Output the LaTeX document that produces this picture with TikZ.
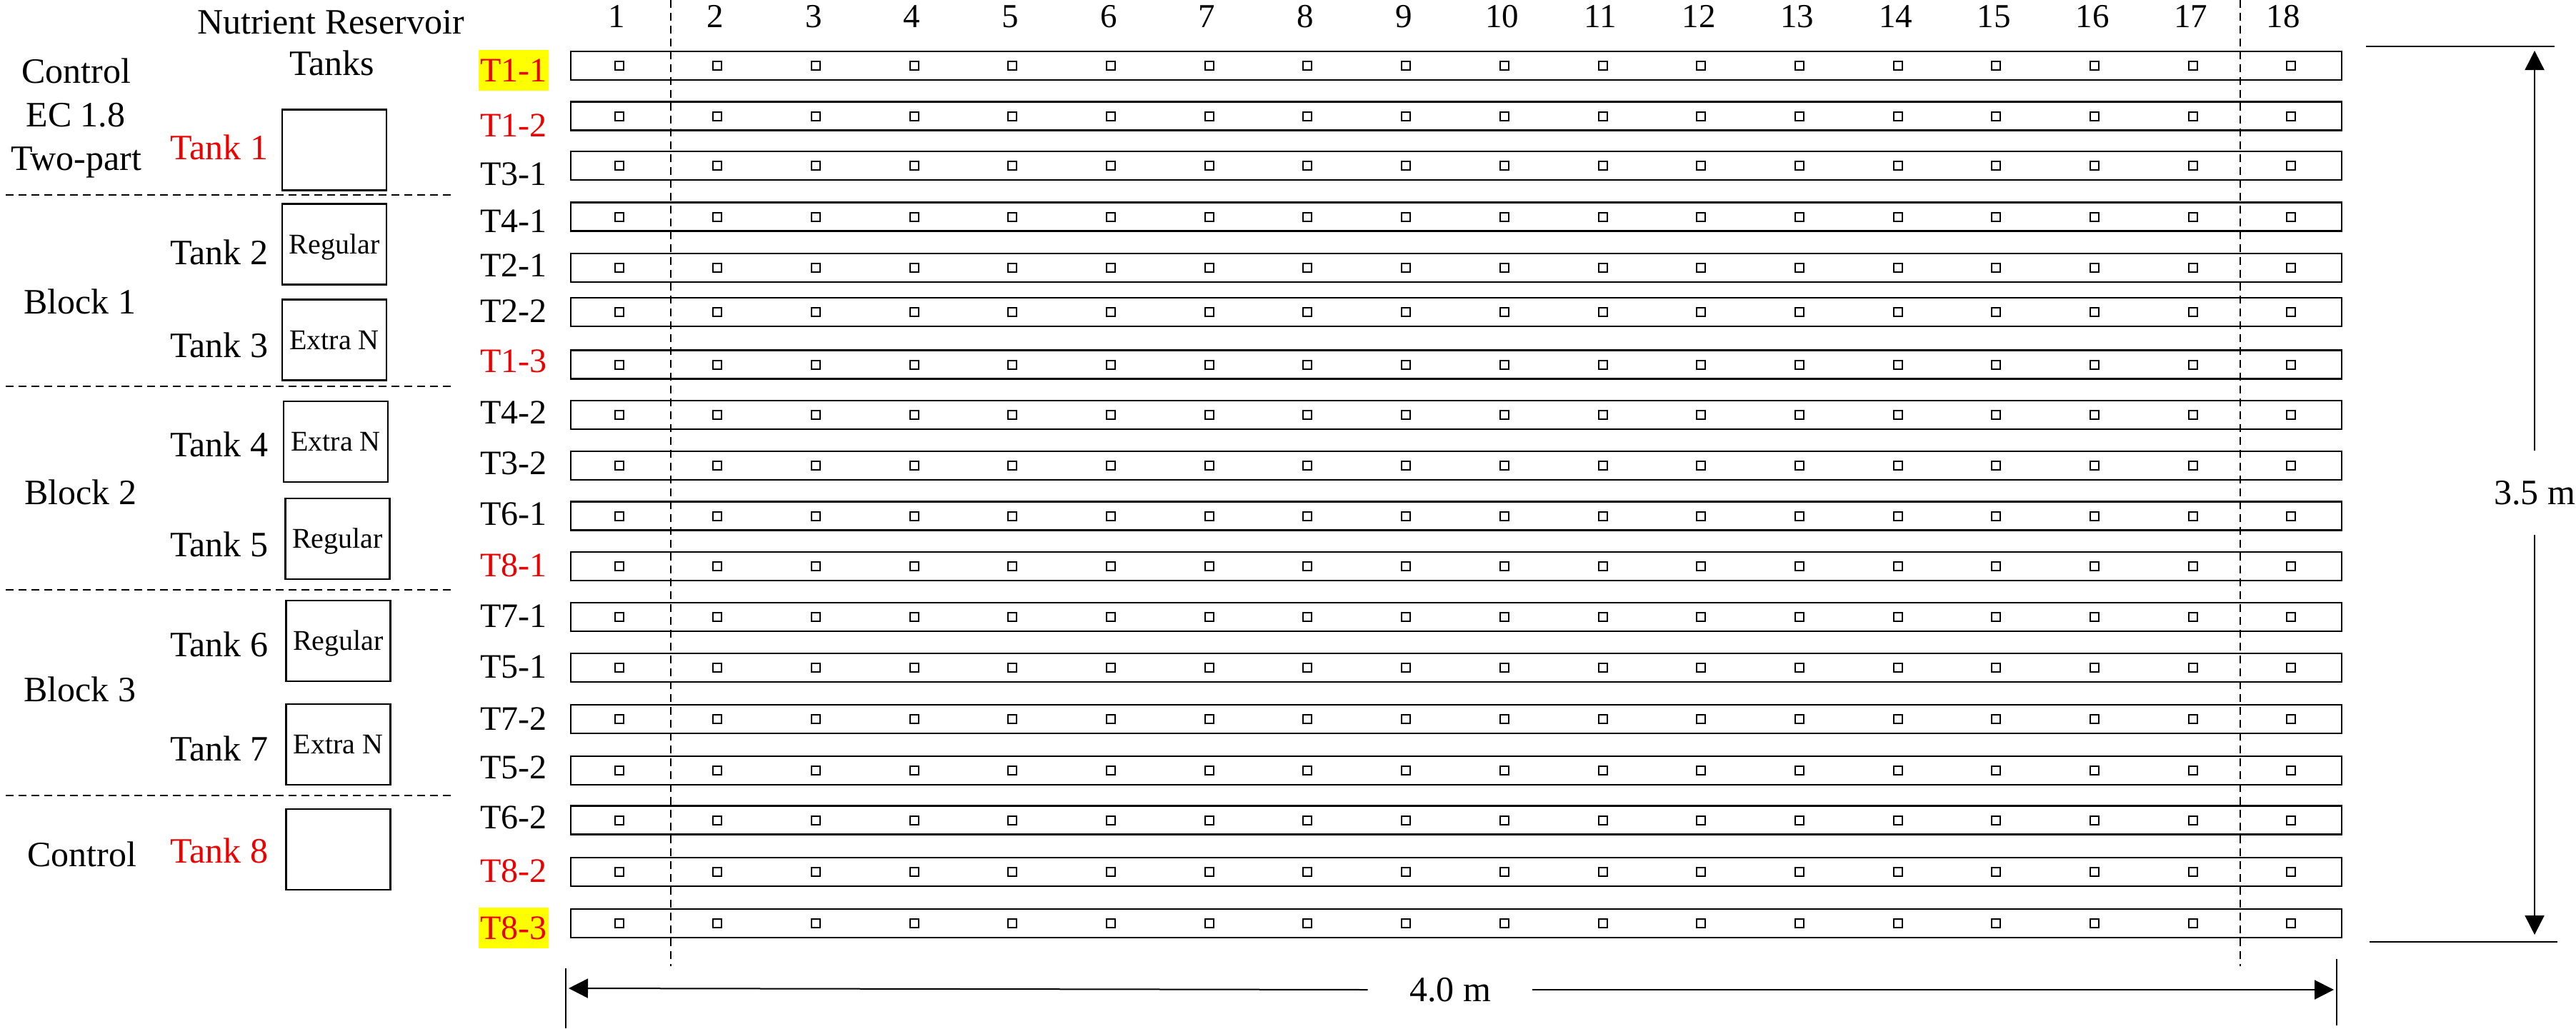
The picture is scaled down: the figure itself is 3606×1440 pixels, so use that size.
\documentclass[tikz,border=0pt]{standalone}
\usepackage{fontspec}
\setmainfont{Liberation Serif}
\usetikzlibrary{arrows.meta}
\definecolor{lred}{RGB}{237,0,0}
\definecolor{hlyellow}{RGB}{255,255,0}
\begin{document}
\begin{tikzpicture}[x=0.5pt,y=-0.5pt,
  lbl/.style={inner sep=0pt, text height=16.5pt, text depth=0pt, font=\fontsize{25}{30}\selectfont},
  rowlbl/.style={inner sep=0pt, text height=16.2pt, text depth=0pt, font=\fontsize{24}{29}\selectfont},
  numlbl/.style={inner sep=0pt, text height=16pt, text depth=0pt, font=\fontsize{23.5}{28}\selectfont},
  tankbox/.style={draw, line width=1.3pt, minimum width=73pt, minimum height=56.5pt, inner sep=0pt,
                   text height=13.2pt, text depth=0pt, font=\fontsize{20}{24}\selectfont},
  bed/.style={draw, line width=1.3pt, minimum width=1239.5pt, minimum height=20pt, inner sep=0pt},
  plant/.style={draw, line width=1pt, minimum size=6pt, inner sep=0pt},
  hl/.style={fill=hlyellow, minimum width=49pt, minimum height=28.5pt},
  nohl/.style={},
  sepline/.style={line width=0.8pt, dash pattern=on 5.5pt off 3.5pt},
  dimline/.style={line width=1pt},
  dimarrow/.style={line width=1pt, -{Triangle[length=13.5pt,width=13.5pt]}}
]
\useasboundingbox (0,0) rectangle (3606,1440);

% headers and block labels
\node[lbl] (hdr1) at (463,31) {Nutrient Reservoir};
\node[lbl] (hdr2) at (465,89) {Tanks};
\node[lbl] (ctlA) at (107,100) {Control};
\node[lbl] (ctlB) at (106,161) {EC 1.8};
\node[lbl] (ctlC) at (107,222) {Two-part};
\node[lbl] (blk1) at (112,423) {Block 1};
\node[lbl] (blk2) at (113,690) {Block 2};
\node[lbl] (blk3) at (112,966) {Block 3};
\node[lbl] (ctlD) at (115,1197) {Control};

% tank labels
\foreach \n/\y/\c in {1/207/lred,2/354/black,3/484/black,4/623/black,5/763/black,6/903/black,7/1049/black,8/1192/lred}
  \node[lbl,text=\c] (tl\n) at (307,\y) {Tank \n};

% tank boxes
\node[tankbox] (tb1) at (468,210) {};
\node[tankbox] (tb2) at (468,342) {Regular};
\node[tankbox] (tb3) at (468,476) {Extra N};
\node[tankbox] (tb4) at (470,618.5) {Extra N};
\node[tankbox] (tb5) at (472.5,754.5) {Regular};
\node[tankbox] (tb6) at (473.5,897.5) {Regular};
\node[tankbox] (tb7) at (473.5,1042.5) {Extra N};
\node[tankbox] (tb8) at (473.5,1189.5) {};

% separators
\foreach \y in {273,541,826,1114}
  \draw[sepline] (8,\y) -- (632,\y);

% column numbers
\foreach \k in {1,...,17}
  \node[numlbl] (col\k) at ({863.5+137.7*(\k-1)},22) {\k};
\node[numlbl] (col18) at (3196,22) {18};

% beds
\foreach \i/\yr/\yl/\t/\c/\h in {
  1/92/98/T1-1/lred/hl, 2/162.5/175/T1-2/lred/nohl, 3/232/243/T3-1/black/nohl,
  4/303.5/309/T4-1/black/nohl, 5/375/371/T2-1/black/nohl, 6/437/435/T2-2/black/nohl,
  7/510.5/505/T1-3/lred/nohl, 8/581/577/T4-2/black/nohl, 9/652/648/T3-2/black/nohl,
  10/722.5/719/T6-1/black/nohl, 11/793/791/T8-1/lred/nohl, 12/864/862/T7-1/black/nohl,
  13/935/933/T5-1/black/nohl, 14/1007/1006/T7-2/black/nohl, 15/1079/1074/T5-2/black/nohl,
  16/1148.5/1144/T6-2/black/nohl, 17/1221/1219/T8-2/lred/nohl, 18/1293/1299/T8-3/lred/hl}
{
  \node[bed] (r\i) at (2038.5,\yr) {};
  \node[rowlbl,text=\c,\h] (l\i) at (719,\yl) {\t};
  \foreach \k in {1,...,18}
    \node[plant] (s\i-\k) at ({866.5+137.7*(\k-1)},\yr) {};
}

% dashed column markers
\draw[sepline] (939,0) -- (939,1353);
\draw[sepline] (3136,0) -- (3136,1353);

% height dimension
\draw[dimline] (3312,65) -- (3576,65);
\draw[dimline] (3317,1319) -- (3580,1319);
\node[lbl, minimum height=59pt] (hlab) at (3548,690) {3.5 m};
\coordinate (hT) at (3548,71);
\coordinate (hB) at (3548,1309);
\draw[dimarrow] (hlab.north) -- (hT);
\draw[dimarrow] (hlab.south) -- (hB);

% width dimension
\draw[dimline] (792,1356) -- (792,1440);
\draw[dimline] (3271,1343) -- (3271,1436);
\node[lbl, minimum width=115pt] (wlab) at (2030,1386) {4.0 m};
\coordinate (wL) at (796,1384);
\coordinate (wR) at (3267,1386);
\draw[dimarrow] (wlab.west) -- (wL);
\draw[dimarrow] (wlab.east) -- (wR);
\end{tikzpicture}
\end{document}
